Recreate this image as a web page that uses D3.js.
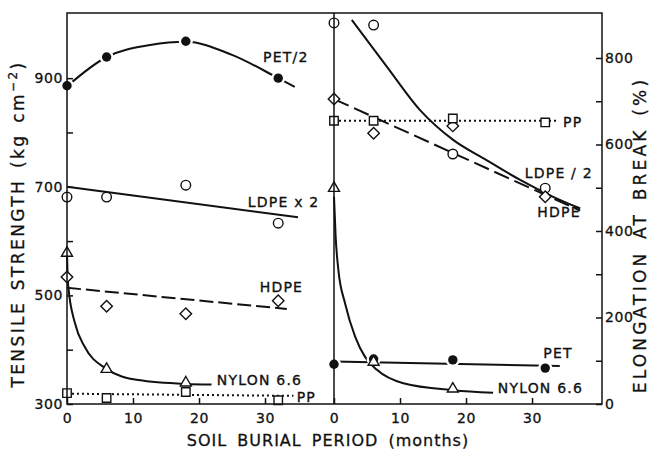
<!DOCTYPE html>
<html>
<head>
<meta charset="utf-8">
<script src="https://cdn.jsdelivr.net/npm/d3@7"></script>
<style>
body { margin: 0; background: #fff; }
svg { display: block; font-family: 'DejaVu Sans', sans-serif; }
</style>
</head>
<body>
<svg id="chart" width="656" height="453"></svg>
<script>
// burial times (months)
var months = [0, 6, 18, 32];
var nylonMonths = [0, 6, 18];

// tensile strength, kg cm-2 (left panel)
var petTensile = [886, 939, 968, 900];
var ldpeTensile = [681, 681, 703, 633];
var hdpeTensile = [534, 480, 466, 490];
var nylonTensile = [578, 364, 339];
var ppTensile = [320, 311, 322, 307];

// fitted curves drawn on the left panel [month, value]
var petTensileFit = [[0, 885], [6, 939], [12.6, 961], [18, 967], [25, 943], [32, 900], [34.5, 884]];
var ldpeTensileFit = [[0, 700], [35, 644]];
var hdpeTensileFit = [[0, 514], [33.3, 475]];
var nylonTensileFit = [[0, 578], [0.1, 534], [0.2, 516], [1.2, 449], [2.7, 405], [5.8, 366], [10.8, 344], [17.9, 337], [21.9, 336]];
var ppTensileFit = [[0, 319], [34.3, 315]];

// elongation at break, % (right panel)
var ldpeElong = [881, 876, 578, 499];
var hdpeElong = [705, 626, 643, 479];
var ppElong = [655, 655, 660, 651];
var petElong = [92, 104, 102, 83];
var nylonElong = [499, 97, 35];

var ldpeElongFit = [[2.7, 888], [8, 780], [13, 680], [18.1, 610], [23.1, 564], [28.2, 518], [33.2, 479], [37.3, 452]];
var hdpeElongFit = [[0, 705], [37.3, 447]];
var ppElongFit = [[0, 655], [34, 655]];
var petElongFit = [[0, 98], [34.2, 88]];
var nylonElongFit = [[0, 479], [0.25, 387], [0.66, 310], [1.67, 233], [3.2, 156], [4.7, 109], [6.5, 79], [10.5, 48], [18.1, 32], [24.1, 26]];

// axis ticks
var tensileTicks = [300, 400, 500, 600, 700, 800, 900];
var tensileLabels = [300, 500, 700, 900];
var elongTicks = [0, 100, 200, 300, 400, 500, 600, 700, 800];
var elongLabels = [0, 200, 400, 600, 800];
var monthTicks = [0, 10, 20, 30];

var svg = d3.select('#chart');

var frameTop = 13, frameBottom = 404, frameLeft = 67, frameMid = 334, frameRight = 602;

var xL = d3.scaleLinear().domain([0, 40.45]).range([frameLeft, frameMid]);
var xR = d3.scaleLinear().domain([0, 40.6]).range([frameMid, frameRight]);
var yL = d3.scaleLinear().domain([300, 1020]).range([frameBottom, frameTop]);
var yR = d3.scaleLinear().domain([0, 904]).range([frameBottom, frameTop]);

function zip(xs, ys) {
    return ys.map((v, i) => [xs[i], v]);
}

var leftSeries = [
    { name: 'PET/2', pts: zip(months, petTensile), fit: petTensileFit, mark: 'dot', dash: null, lab: [29.7, 939] },
    { name: 'LDPE x 2', pts: zip(months, ldpeTensile), fit: ldpeTensileFit, mark: 'circle', dash: null, lab: [27.4, 672] },
    { name: 'HDPE', pts: zip(months, hdpeTensile), fit: hdpeTensileFit, mark: 'diamond', dash: '14,5', lab: [29.2, 515] },
    { name: 'NYLON 6.6', pts: zip(nylonMonths, nylonTensile), fit: nylonTensileFit, mark: 'triangle', dash: null, lab: [22.7, 344] },
    { name: 'PP', pts: zip(months, ppTensile), fit: ppTensileFit, mark: 'square', dash: '2,3', lab: [34.8, 313] }
];

var rightSeries = [
    { name: 'LDPE / 2', pts: zip(months, ldpeElong), fit: ldpeElongFit, mark: 'circle', dash: null, lab: [28.9, 534] },
    { name: 'HDPE', pts: zip(months, hdpeElong), fit: hdpeElongFit, mark: 'diamond', dash: '16,6', lab: [30.8, 444] },
    { name: 'PP', pts: zip(months, ppElong), fit: ppElongFit, mark: 'square', dash: '2,3', lab: [34.7, 652] },
    { name: 'PET', pts: zip(months, petElong), fit: petElongFit, mark: 'dot', dash: null, lab: [31.7, 118] },
    { name: 'NYLON 6.6', pts: zip(nylonMonths, nylonElong), fit: nylonElongFit, mark: 'triangle', dash: null, lab: [24.8, 37] }
];

function drawPanel(x, y, series) {
    var g = svg.append('g');
    var line = d3.line()
        .x(d => x(d[0]))
        .y(d => y(d[1]))
        .curve(d3.curveMonotoneX);

    // fitted lines
    g.selectAll('.fit')
        .data(series)
        .enter()
        .append('path')
        .attr('class', 'fit')
        .attr('d', d => line(d.fit))
        .attr('fill', 'none')
        .attr('stroke', '#111')
        .attr('stroke-width', 2)
        .attr('stroke-dasharray', d => d.dash);

    // markers
    series.forEach(s => {
        var mg = g.append('g');
        s.pts.forEach(d => {
            var tx = 'translate(' + x(d[0]) + ',' + y(d[1]) + ')';
            if (s.mark === 'dot') {
                mg.append('circle').attr('transform', tx).attr('r', 7).attr('fill', '#fff');
                mg.append('circle').attr('transform', tx).attr('r', 4.7).attr('fill', '#111');
            } else if (s.mark === 'circle') {
                mg.append('circle').attr('transform', tx).attr('r', 4.8)
                    .attr('fill', '#fff').attr('stroke', '#111').attr('stroke-width', 1.4);
            } else if (s.mark === 'square') {
                mg.append('path').attr('transform', tx)
                    .attr('d', d3.symbol(d3.symbolSquare, 72)())
                    .attr('fill', '#fff').attr('stroke', '#111').attr('stroke-width', 1.4);
            } else if (s.mark === 'diamond') {
                mg.append('path').attr('transform', tx + ' rotate(45)')
                    .attr('d', d3.symbol(d3.symbolSquare, 66)())
                    .attr('fill', '#fff').attr('stroke', '#111').attr('stroke-width', 1.4);
            } else if (s.mark === 'triangle') {
                mg.append('path').attr('transform', tx)
                    .attr('d', d3.symbol(d3.symbolTriangle, 52)())
                    .attr('fill', '#fff').attr('stroke', '#111').attr('stroke-width', 1.4);
            }
        });
    });

    // series labels
    g.selectAll('.lab')
        .data(series)
        .enter()
        .append('text')
        .attr('class', 'lab')
        .attr('x', d => x(d.lab[0]))
        .attr('y', d => y(d.lab[1]) + 5)
        .attr('font-size', 14)
        .attr('letter-spacing', 1.2)
        .attr('fill', '#111')
        .attr('stroke', '#111')
        .attr('stroke-width', 0.35)
        .text(d => d.name);
}

drawPanel(xL, yL, leftSeries);
drawPanel(xR, yR, rightSeries);

// axes
var yAxisL = d3.axisLeft(yL)
    .tickValues(tensileTicks)
    .tickSize(-6)
    .tickPadding(4)
    .tickFormat(d => tensileLabels.includes(d) ? d : '');
var gyl = svg.append('g').attr('transform', 'translate(' + frameLeft + ',0)').call(yAxisL);

var yAxisR = d3.axisRight(yR)
    .tickValues(elongTicks)
    .tickSize(-6)
    .tickPadding(3)
    .tickFormat(d => elongLabels.includes(d) ? d : '');
var gyr = svg.append('g').attr('transform', 'translate(' + frameRight + ',0)').call(yAxisR);

var gxl = svg.append('g').attr('transform', 'translate(0,' + frameBottom + ')')
    .call(d3.axisBottom(xL).tickValues(monthTicks).tickSize(-6).tickPadding(9));
var gxr = svg.append('g').attr('transform', 'translate(0,' + frameBottom + ')')
    .call(d3.axisBottom(xR).tickValues(monthTicks).tickSize(-6).tickPadding(9));

[gyl, gyr, gxl, gxr].forEach(a => {
    a.select('.domain').remove();
    a.selectAll('line').attr('stroke', '#111').attr('stroke-width', 1.5);
    a.selectAll('text')
        .attr('font-family', 'DejaVu Sans, sans-serif')
        .attr('font-size', 14)
        .attr('letter-spacing', 0.6)
        .attr('fill', '#111')
        .attr('stroke', '#111')
        .attr('stroke-width', 0.3);
});

// frame and panel divider
svg.append('rect')
    .attr('x', frameLeft).attr('y', frameTop)
    .attr('width', frameRight - frameLeft).attr('height', frameBottom - frameTop)
    .attr('fill', 'none').attr('stroke', '#111').attr('stroke-width', 1.5);
svg.append('line')
    .attr('x1', frameMid).attr('x2', frameMid).attr('y1', frameTop).attr('y2', frameBottom)
    .attr('stroke', '#111').attr('stroke-width', 1.5);

// axis titles
svg.append('text')
    .attr('x', 328).attr('y', 446)
    .attr('text-anchor', 'middle')
    .attr('font-size', 16)
    .attr('letter-spacing', 1)
    .attr('word-spacing', 4)
    .attr('fill', '#111')
    .attr('stroke', '#111')
    .attr('stroke-width', 0.3)
    .text('SOIL BURIAL PERIOD (months)');

var tl = svg.append('text')
    .attr('transform', 'translate(24,224) rotate(-90)')
    .attr('text-anchor', 'middle')
    .attr('font-size', 17)
    .attr('letter-spacing', 2.4)
    .attr('word-spacing', 3)
    .attr('fill', '#111')
    .attr('stroke', '#111')
    .attr('stroke-width', 0.3);
tl.append('tspan').text('TENSILE STRENGTH (kg cm');
tl.append('tspan').attr('dy', -7).attr('font-size', 12).text('\u22122');
tl.append('tspan').attr('dy', 7).text(')');

svg.append('text')
    .attr('transform', 'translate(646,235) rotate(-90)')
    .attr('text-anchor', 'middle')
    .attr('font-size', 17)
    .attr('letter-spacing', 3.2)
    .attr('word-spacing', 3)
    .attr('fill', '#111')
    .attr('stroke', '#111')
    .attr('stroke-width', 0.3)
    .text('ELONGATION AT BREAK (%)');
</script>
</body>
</html>
